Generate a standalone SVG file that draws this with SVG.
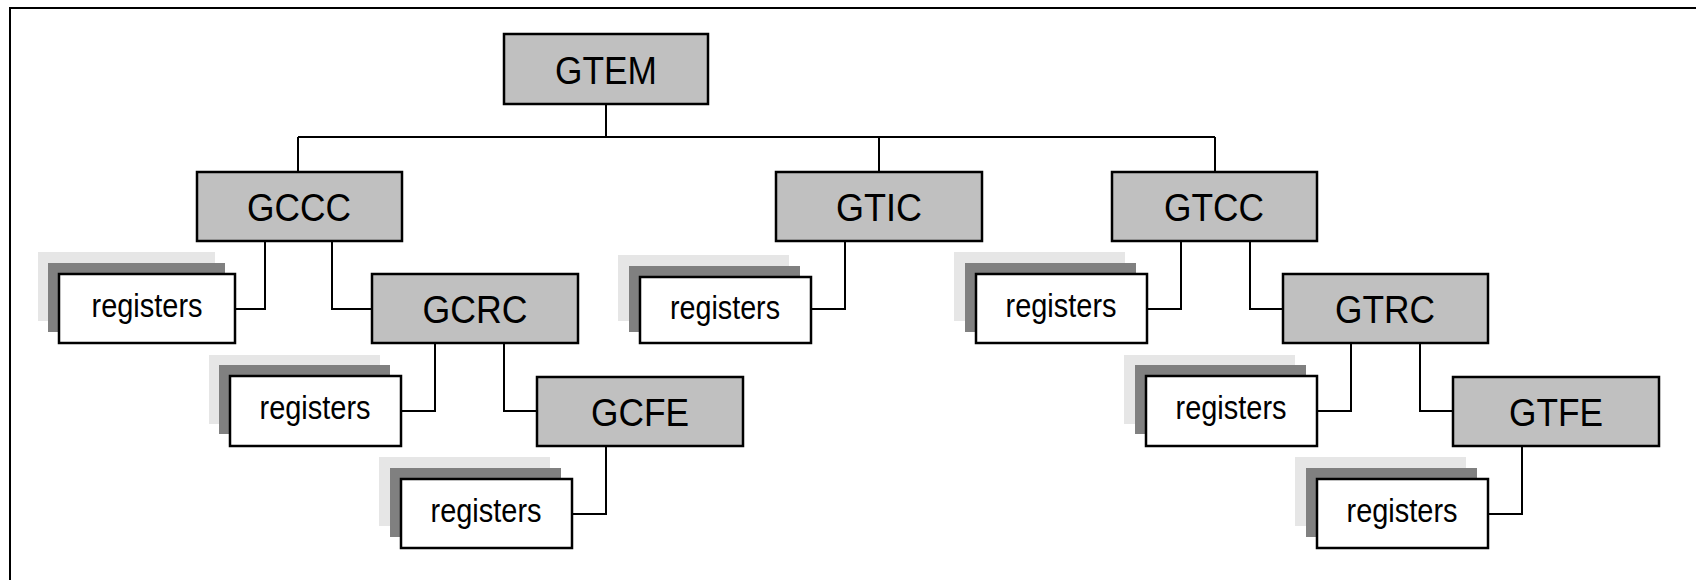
<svg xmlns="http://www.w3.org/2000/svg" width="1696" height="580" viewBox="0 0 1696 580">
  <style>
    .unit rect { fill: #c0c0c0; stroke: #000; stroke-width: 2.5; }
    .unit text { font-family: "Liberation Sans", Arial, sans-serif; font-size: 38px; text-anchor: middle; fill: #000; }
    .reg .light { fill: #e6e6e6; }
    .reg .dark { fill: #808080; }
    .reg .face { fill: #fff; stroke: #000; stroke-width: 2.5; }
    .reg text { font-family: "Liberation Sans", Arial, sans-serif; font-size: 33px; text-anchor: middle; fill: #000; }
    #connectors path { fill: none; stroke: #000; stroke-width: 2; }
    .frame { fill: none; stroke: #000; stroke-width: 2; }
  </style>

  <rect width="1696" height="580" fill="#fff"/>
  <path class="frame" d="M10,580 V8 H1696"/>

  <!-- hierarchy lines -->
  <g id="connectors">
    <path d="M606,104 V137"/>
    <path d="M298,137 H1215"/>
    <path d="M298,137 V172"/>
    <path d="M879,137 V172"/>
    <path d="M1215,137 V172"/>
    <!-- GCCC -->
    <path d="M265,241 V309 H229"/>
    <path d="M332,241 V309 H372"/>
    <!-- GCRC -->
    <path d="M435,343 V411 H401"/>
    <path d="M504,343 V411 H537"/>
    <!-- GCFE -->
    <path d="M606,446 V514 H572"/>
    <!-- GTIC -->
    <path d="M845,241 V309 H811"/>
    <!-- GTCC -->
    <path d="M1181,241 V309 H1147"/>
    <path d="M1250,241 V309 H1283"/>
    <!-- GTRC -->
    <path d="M1351,343 V411 H1317"/>
    <path d="M1420,343 V411 H1453"/>
    <!-- GTFE -->
    <path d="M1522,446 V514 H1488"/>
  </g>

  <!-- functional units -->
  <g id="gtem" class="unit">
    <rect x="504" y="34" width="204" height="70"/>
    <text x="606" y="84" textLength="102" lengthAdjust="spacingAndGlyphs">GTEM</text>
  </g>
  <g id="gccc" class="unit">
    <rect x="197" y="172" width="205" height="69"/>
    <text x="299" y="221" textLength="104" lengthAdjust="spacingAndGlyphs">GCCC</text>
  </g>
  <g id="gtic" class="unit">
    <rect x="776" y="172" width="206" height="69"/>
    <text x="879" y="221" textLength="86" lengthAdjust="spacingAndGlyphs">GTIC</text>
  </g>
  <g id="gtcc" class="unit">
    <rect x="1112" y="172" width="205" height="69"/>
    <text x="1214" y="221" textLength="100" lengthAdjust="spacingAndGlyphs">GTCC</text>
  </g>
  <g id="gcrc" class="unit">
    <rect x="372" y="274" width="206" height="69"/>
    <text x="475" y="323" textLength="105" lengthAdjust="spacingAndGlyphs">GCRC</text>
  </g>
  <g id="gtrc" class="unit">
    <rect x="1283" y="274" width="205" height="69"/>
    <text x="1385" y="323" textLength="100" lengthAdjust="spacingAndGlyphs">GTRC</text>
  </g>
  <g id="gcfe" class="unit">
    <rect x="537" y="377" width="206" height="69"/>
    <text x="640" y="426" textLength="98" lengthAdjust="spacingAndGlyphs">GCFE</text>
  </g>
  <g id="gtfe" class="unit">
    <rect x="1453" y="377" width="206" height="69"/>
    <text x="1556" y="426" textLength="94" lengthAdjust="spacingAndGlyphs">GTFE</text>
  </g>

  <!-- register stacks -->
  <g id="reg-gccc" class="reg">
    <rect class="light" x="38" y="252" width="177" height="69"/>
    <rect class="dark" x="48" y="263" width="177" height="69"/>
    <rect class="face" x="59" y="274" width="176" height="69"/>
    <text x="147" y="317" textLength="111" lengthAdjust="spacingAndGlyphs">registers</text>
  </g>
  <g id="reg-gcrc" class="reg">
    <rect class="light" x="209" y="355" width="171" height="69"/>
    <rect class="dark" x="219" y="365" width="171" height="69"/>
    <rect class="face" x="230" y="376" width="171" height="70"/>
    <text x="315" y="419" textLength="111" lengthAdjust="spacingAndGlyphs">registers</text>
  </g>
  <g id="reg-gcfe" class="reg">
    <rect class="light" x="379" y="457" width="171" height="69"/>
    <rect class="dark" x="390" y="468" width="171" height="69"/>
    <rect class="face" x="401" y="479" width="171" height="69"/>
    <text x="486" y="522" textLength="111" lengthAdjust="spacingAndGlyphs">registers</text>
  </g>
  <g id="reg-gtic" class="reg">
    <rect class="light" x="618" y="255" width="171" height="66"/>
    <rect class="dark" x="629" y="266" width="171" height="66"/>
    <rect class="face" x="640" y="277" width="171" height="66"/>
    <text x="725" y="319" textLength="110" lengthAdjust="spacingAndGlyphs">registers</text>
  </g>
  <g id="reg-gtcc" class="reg">
    <rect class="light" x="954" y="252" width="171" height="69"/>
    <rect class="dark" x="965" y="263" width="171" height="69"/>
    <rect class="face" x="976" y="274" width="171" height="69"/>
    <text x="1061" y="317" textLength="111" lengthAdjust="spacingAndGlyphs">registers</text>
  </g>
  <g id="reg-gtrc" class="reg">
    <rect class="light" x="1124" y="355" width="171" height="69"/>
    <rect class="dark" x="1135" y="365" width="171" height="69"/>
    <rect class="face" x="1146" y="376" width="171" height="70"/>
    <text x="1231" y="419" textLength="111" lengthAdjust="spacingAndGlyphs">registers</text>
  </g>
  <g id="reg-gtfe" class="reg">
    <rect class="light" x="1295" y="457" width="171" height="69"/>
    <rect class="dark" x="1306" y="468" width="171" height="69"/>
    <rect class="face" x="1317" y="479" width="171" height="69"/>
    <text x="1402" y="522" textLength="111" lengthAdjust="spacingAndGlyphs">registers</text>
  </g>
</svg>
